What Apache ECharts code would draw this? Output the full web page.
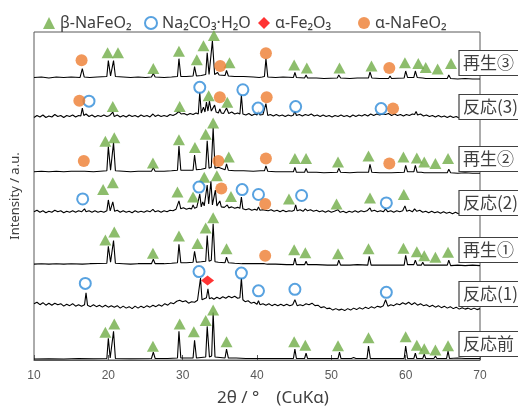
<!DOCTYPE html>
<html>
<head>
<meta charset="utf-8">
<script src="https://cdn.jsdelivr.net/npm/echarts@6/dist/echarts.min.js"></script>
<style>
  body { margin: 0; background: #fff; }
  #xrd-chart { width: 518px; height: 412px; }
</style>
</head>
<body>
<div id="xrd-chart"></div>
<script>
// sample names, top to bottom
const sampleNames = ['再生③', '反応(3)', '再生②', '反応(2)', '再生①', '反応(1)', '反応前']
const labelCenters = [63, 107, 159, 203, 250, 294, 344]

// traces: [2theta, offset intensity]
const regen3 = [[10,286],[11,286.5],[12,285.5],[13,286.5],[14,286],[15,286.5],[16.2,286],[16.5,295],[16.75,286.5],[17.5,286],[18.5,286.5],[19.8,287],[20.0,303],[20.3,287.5],[20.45,287.5],[20.7,303],[20.95,287],[22,286.5],[23,286],[24,286.5],[25,286],[25.8,286.5],[26.05,290],[26.3,286.5],[27.5,286],[28.5,286.5],[29.3,287],[29.5,305],[29.75,287],[30.5,287],[31.4,287.5],[31.6,297],[31.85,287.5],[32.5,288],[33.1,289],[33.3,311],[33.55,289],[33.8,290],[34.0,323],[34.3,289],[34.55,289],[34.7,291],[34.9,288.5],[35.7,288],[35.9,293],[36.15,287.5],[37,287],[37.9,287],[38.05,288.5],[38.2,287],[39.5,286.5],[40.3,286],[40.5,287.5],[40.7,286.5],[41.0,287],[41.2,305],[41.45,286.5],[42.5,286],[43.5,286.5],[44.9,286],[45.1,291],[45.3,286],[46.4,285.5],[46.6,288.5],[46.8,285.5],[48,285.5],[49,285],[50.8,285.5],[51.0,288.5],[51.25,285.5],[52.5,285],[53.5,285.5],[55.0,285.5],[55.2,291.5],[55.45,285.5],[56.5,285],[57.7,285],[57.9,287.5],[58.1,285],[59.8,285.5],[60.0,292.5],[60.25,286],[61.1,286],[61.3,292.5],[61.55,286],[62.3,285.5],[62.5,287.5],[62.7,285],[63.8,285],[64.0,286.5],[64.2,285],[65.6,285],[65.8,288.5],[66.05,285],[67,284.5],[68,285],[69,284.5],[70,284.5]]

const react3 = [[10,245.5],[10.4,247.5],[10.8,246],[11.2,248],[11.6,245.5],[12,247],[12.4,246],[12.8,248.5],[13.2,246.5],[13.6,247.5],[14,245.5],[14.4,247.5],[14.8,246.5],[15.2,248],[15.6,246],[16,247.5],[16.3,247],[16.5,255],[16.7,247.5],[17.0,249],[17.4,246.5],[17.8,248],[18.2,246],[18.6,247.5],[19,246.5],[19.4,248],[19.8,246.5],[20.2,247.5],[20.45,247],[20.6,251],[20.8,246.5],[21.2,248],[21.6,246],[22,247.5],[22.4,246],[22.8,248],[23.2,246.5],[23.6,247.5],[24,246],[24.4,248],[24.8,246.5],[25.2,247.5],[25.6,246],[26,249],[26.3,246.5],[26.7,248],[27.1,246.5],[27.5,247.5],[27.9,246.5],[28.3,248.5],[28.7,247.5],[29.1,249],[29.5,251.5],[29.8,249],[30.2,249.5],[30.6,248],[31,249.5],[31.4,248.5],[31.8,250],[32.1,249],[32.3,271],[32.5,250],[32.8,256],[33.0,251],[33.2,261],[33.4,252],[33.6,262],[33.85,252],[34.1,253],[34.3,258],[34.5,251],[34.8,250],[35.0,254],[35.2,250],[35.5,249.5],[35.9,255],[36.2,249.5],[36.6,251],[37,249],[37.4,250],[37.7,249],[37.9,268],[38.1,249],[38.5,248],[38.9,249.5],[39.3,247.5],[39.7,249],[40.0,248],[40.2,252],[40.4,248],[40.8,248.5],[41.0,248],[41.2,259.5],[41.45,247.5],[41.8,248.5],[42.2,247],[42.6,248.5],[43,247],[43.4,248],[43.8,246.5],[44.2,248],[44.6,247],[44.9,248],[45.1,252],[45.3,247.5],[45.7,248.5],[46.1,247],[46.5,248.5],[46.9,247.5],[47.3,249],[47.7,247],[48.1,248],[48.5,246.5],[48.9,248],[49.3,246.5],[49.7,247.5],[50.1,246],[50.5,247.5],[50.9,246.5],[51.3,248],[51.7,246.5],[52.1,247.5],[52.5,246],[52.9,248],[53.3,246.5],[53.7,248],[54.1,247],[54.5,248.5],[54.9,247],[55.3,249],[55.7,247.5],[56.1,249],[56.5,248],[56.9,249],[57.1,251],[57.3,248.5],[57.7,249.5],[58.1,247.5],[58.5,249],[58.9,247.5],[59.3,248.5],[59.7,247],[60.1,248.5],[60.5,247.5],[60.9,249],[61.2,248.5],[61.4,251.5],[61.6,248],[62,249],[62.4,247],[62.8,248],[63.2,246.5],[63.6,247.5],[64,246],[64.4,247.5],[64.8,246],[65.2,247],[65.6,245.5],[66,247],[66.4,245.5],[66.8,246.5],[67.2,245],[67.6,246.5],[68,245],[68.4,246],[68.8,244.5],[69.2,245.5],[69.6,244.5],[70,245]]

const regen2 = [[10,190.5],[11,191],[12,190.5],[13,191],[14,190.5],[15,191],[16.4,191],[16.6,193],[16.8,191],[18,190.5],[19.8,191.5],[20.0,216],[20.3,192],[20.45,192],[20.7,220],[20.95,191.5],[22,191],[23,190.5],[24,191],[25.8,191],[26.05,194.5],[26.3,191],[27.5,191],[28.5,191.5],[29.3,192],[29.5,216.5],[29.75,192],[30.5,192],[31.4,192],[31.6,207.5],[31.85,192.5],[32.5,193],[33.1,194],[33.3,222],[33.55,194],[33.85,195],[34.1,235],[34.35,194],[34.6,193.5],[34.8,195],[35.0,193],[35.7,192.5],[35.9,198.5],[36.15,192],[37,191.5],[37.9,191.5],[38.05,193],[38.2,191.5],[39.5,191],[40.5,191.5],[41.0,191.5],[41.2,196.5],[41.45,191],[42.5,190.5],[43.5,190.5],[44.9,190.5],[45.1,195],[45.3,190],[46.4,190],[46.6,194],[46.8,190],[48,190],[49,189.5],[50.8,190],[51.0,194],[51.25,190],[52.5,189.5],[53.5,190],[55.0,190],[55.2,198],[55.45,190],[56.5,189.5],[57.7,189.5],[57.9,191.5],[58.1,189.5],[59.8,190],[60.0,197],[60.25,190.5],[61.1,190.5],[61.3,197],[61.55,190],[62.1,190],[62.3,192],[62.5,189.5],[63.8,189.5],[64.0,191.5],[64.2,189.5],[65.6,189.5],[65.8,193],[66.05,189.5],[67,189],[68,189.5],[69,189],[70,189]]

const react2 = [[10,150],[10.4,151.5],[10.8,149.5],[11.2,151],[11.6,149],[12,150.5],[12.4,149.5],[12.8,151.5],[13.2,150],[13.6,151],[14,149],[14.4,150.5],[14.8,149.5],[15.2,151],[15.6,149.5],[16,151],[16.4,150],[16.6,150.5],[16.8,153],[17.0,150],[17.4,151],[17.8,149.5],[18.2,151],[18.6,149.5],[19,150.5],[19.4,149.5],[19.8,151],[20.0,162],[20.25,151],[20.45,151],[20.6,160],[20.85,150.5],[21.2,151.5],[21.6,149.5],[22,151],[22.4,149.5],[22.8,150.5],[23.2,149],[23.6,151],[24,149.5],[24.4,150.5],[24.8,149.5],[25.2,151],[25.6,150],[26,152.5],[26.3,150],[26.7,151],[27.1,149.5],[27.5,151],[27.9,150],[28.3,151.5],[28.7,151],[29.1,152.5],[29.3,152],[29.5,161],[29.75,153],[30.1,154],[30.5,152.5],[30.9,153.5],[31.2,153],[31.4,157],[31.6,153.5],[31.9,154.5],[32.1,154],[32.3,168],[32.5,155],[32.7,160],[32.9,156],[33.1,157],[33.3,177],[33.5,158],[33.6,160],[33.8,181],[34.0,157],[34.2,158],[34.4,172],[34.6,156],[34.8,155.5],[35.0,161],[35.2,155],[35.6,154.5],[35.8,155],[36.0,157],[36.2,154],[36.6,155],[37,153.5],[37.4,154.5],[37.7,153.5],[37.9,165],[38.1,153],[38.5,152],[38.9,153],[39.3,151.5],[39.7,152.5],[40.0,151.5],[40.2,155],[40.4,151.5],[40.8,152],[41.1,151.5],[41.3,153.5],[41.5,151],[41.9,152],[42.3,150.5],[42.7,151.5],[43.1,150],[43.5,151.5],[43.9,150],[44.3,151],[44.7,150.5],[45.0,151.5],[45.2,157],[45.4,151],[45.8,152],[46.2,150.5],[46.5,153],[46.8,151],[47.2,152],[47.6,150.5],[48,151.5],[48.4,150],[48.8,151],[49.2,149.5],[49.6,151],[50,149.5],[50.4,150.5],[50.9,152],[51.2,149.5],[51.6,150.5],[52,149],[52.4,150.5],[52.8,149.5],[53.2,151],[53.6,149.5],[54,151],[54.4,150],[54.8,151],[55.0,150.5],[55.2,154],[55.4,150.5],[55.8,151.5],[56.2,150],[56.6,151],[57,150],[57.3,153],[57.6,150],[58,151],[58.4,149.5],[58.8,151],[59.2,150],[59.6,151],[59.9,156],[60.15,150.5],[60.5,151.5],[60.9,150],[61.2,153],[61.5,150.5],[61.9,151.5],[62.3,149.5],[62.7,150.5],[63.1,149],[63.5,150.5],[63.9,149],[64.3,150],[64.7,148.5],[65.1,150],[65.5,148.5],[65.9,149.5],[66.3,148],[66.7,149.5],[67.1,148],[67.5,149],[67.9,147.5],[68.3,149],[68.7,147.5],[69.1,148.5],[69.5,147.5],[70,148]]

const regen1 = [[10,97],[11,97.5],[12,97],[13,97.5],[14,97],[15,97.5],[16.5,97],[17.5,97.5],[19.8,98],[20.0,115],[20.3,99],[20.45,99],[20.7,121],[20.95,98],[22,97.5],[23,97],[24,97.5],[25.8,97.5],[26.05,102],[26.3,97.5],[27.5,97.5],[28.5,98],[29.3,98.5],[29.5,117],[29.75,98.5],[30.5,98.5],[31.4,99],[31.6,110],[31.85,99],[32.5,99.5],[33.1,100],[33.3,126],[33.55,100],[33.85,101],[34.1,138],[34.35,99.5],[34.8,99],[35.7,98.5],[35.9,104],[36.15,98.5],[37,98],[38,97.5],[39.5,97.5],[41.0,97.5],[41.2,99],[41.4,97],[42.5,97],[44,96.5],[44.9,96.5],[45.1,103],[45.3,96.5],[46.4,96.5],[46.6,100],[46.8,96.5],[48,96.5],[49.5,96],[50.8,96],[51.0,101],[51.25,96],[52.5,96],[53.5,96.5],[54.9,96],[55.1,105],[55.35,96],[56.5,96],[58,96],[59.8,96],[60.0,106],[60.25,96.5],[61.1,96.5],[61.3,101],[61.55,96],[62.1,96],[62.3,99],[62.5,96],[63.7,96],[63.9,98],[64.1,96],[65.6,96],[65.8,101],[66.05,95.5],[67,96],[68,95.5],[69,96],[70,95.5]]

const react1 = [[10,57],[10.4,58.5],[10.8,56],[11.2,58],[11.6,55.5],[12,57.5],[12.4,55.5],[12.8,57.5],[13.2,56],[13.6,57],[14,54.5],[14.4,56.5],[14.8,55],[15.2,57],[15.6,54.5],[16,56],[16.4,54.5],[16.8,56],[17.0,68],[17.2,55.5],[17.6,54],[18,56],[18.4,54],[18.8,55.5],[19.2,53.5],[19.6,55.5],[20,53.5],[20.4,55],[20.6,56.5],[20.8,53.5],[21.2,55],[21.6,52.5],[22,54.5],[22.4,52.5],[22.8,54],[23.2,52],[23.6,54.5],[24,52.5],[24.4,54.5],[24.8,53],[25.2,55],[25.6,53.5],[26,55.5],[26.4,54],[26.8,56],[27.2,54.5],[27.6,57],[28,55.5],[28.4,58],[28.8,57],[29.2,59.5],[29.6,60.5],[30,59],[30.4,60],[30.8,57.5],[31.2,59],[31.6,58.5],[32,60.5],[32.2,60],[32.4,83],[32.6,61],[32.9,62],[33.2,63],[33.4,72],[33.6,62],[33.9,63],[34.2,61.5],[34.6,63.5],[35,62],[35.4,64],[35.8,62.5],[36.2,64.5],[36.6,63],[37,64.5],[37.4,62.5],[37.7,63],[37.9,83],[38.1,61],[38.4,59],[38.8,60],[39.2,57.5],[39.6,58.5],[40,56.5],[40.2,60],[40.4,56],[40.8,57],[41.2,55.5],[41.6,57],[42,55],[42.4,56.5],[42.8,55],[43.2,56.5],[43.6,55],[44,56.5],[44.4,55],[44.8,56],[45.1,61],[45.4,55],[45.8,56],[46.2,55],[46.6,57],[47,56],[47.4,57.5],[47.8,55],[48.2,55.5],[48.6,53],[49,54],[49.4,52],[49.8,52.5],[50.2,50.5],[50.6,52],[51,50.5],[51.4,51.5],[51.8,50],[52.2,52],[52.6,50.5],[53,52.5],[53.4,51],[53.8,53],[54.2,51.5],[54.6,53.5],[55,52],[55.4,54],[55.8,52.5],[56.2,54.5],[56.6,53.5],[57,55],[57.3,61],[57.6,54.5],[58,56],[58.4,55],[58.8,57],[59.2,56],[59.6,58],[60,56.5],[60.4,58.5],[60.8,56],[61.2,58],[61.6,55.5],[62,57],[62.4,55],[62.8,56],[63.2,54],[63.6,55.5],[64,53.5],[64.4,55],[64.8,53],[65.2,54.5],[65.6,52.5],[66,54],[66.4,52],[66.8,53.5],[67.2,51.5],[67.6,53],[68,51.5],[68.4,52.5],[68.8,51],[69.2,52.5],[69.6,51],[70,52]]

const before = [[10,1],[12,1.3],[14,1],[16,1.5],[18,1.2],[19.8,1.5],[20.0,22],[20.25,2],[20.5,2],[20.7,29],[20.95,1.5],[23,1.2],[25.8,1.5],[26.05,8],[26.3,1.5],[28,1.5],[29.3,2],[29.5,29],[29.75,2],[31.4,2],[31.6,20],[31.85,2],[33.1,3],[33.3,34],[33.6,3],[33.9,4],[34.1,48],[34.35,3],[35.7,2],[35.9,11],[36.15,2],[36.9,2],[37.0,3.5],[37.2,2],[38.5,1.5],[40,1.5],[41,1.5],[43,1.5],[44.9,1.5],[45.1,11],[45.3,1.5],[46.4,1.5],[46.6,7],[46.8,1.5],[48,1.5],[50.9,1.5],[51.1,8],[51.3,1.5],[52.3,1.5],[52.5,3],[52.7,1.5],[53,2.5],[53.3,1.5],[54.8,1.5],[55.0,14],[55.25,1.5],[57,1.5],[59.8,1.5],[60.0,14],[60.25,1.5],[61.1,1.5],[61.3,7],[61.5,1.5],[62.3,1.5],[62.5,6],[62.7,1.5],[63.8,1.5],[64.0,4],[64.2,1.5],[65.5,1.5],[65.7,9],[65.9,1.5],[67,2],[68,1.5],[70,1.5]]

// phase marks: [2theta, offset intensity]
const betaMarks = [
  [19.9,311],[21.3,311],[26.05,295],[29.5,312.5],[31.9,304],[32.8,318],[34.2,328.5],[36.3,301],
  [45.0,298.5],[46.7,295.5],[51.1,295.5],[55.4,297.5],[59.9,301],[61.7,300],[62.7,296],[64.3,294.5],[66.1,300],
  [20.6,256.5],[29.6,256.5],[33.5,267.5],[36.0,261],
  [19.6,221.5],[20.8,225],[26.0,199.5],[29.5,223],[31.65,215],[33.1,228.5],[34.1,240],[36.2,205.5],
  [45.1,204],[46.6,204],[50.9,200.5],[55.0,206.5],[59.7,205.5],[61.5,204.5],[62.5,200.5],[64.0,199],[65.7,204],
  [19.3,172.5],[20.6,179.5],[29.3,170],[31.4,165],[32.9,185],[34.6,186.5],[36.5,165.5],[44.3,163],[50.7,158],[55.2,164],[59.75,167.5],
  [19.6,121.5],[20.8,129.5],[26.0,108],[29.5,125.5],[32.0,118],[33.1,133.5],[34.1,144],[35.9,112.5],
  [45.0,111.5],[46.5,108.5],[50.9,107.5],[55.0,112.5],[59.7,113],[61.5,109.5],[62.5,105.5],[64.0,104],[65.7,109],
  [19.6,28],[20.8,36.5],[26.0,14],[29.6,36.5],[31.5,28.5],[33.1,40],[34.1,50.5],[35.9,18.5],
  [45.0,18.5],[46.5,15],[50.9,14.5],[55.0,22.5],[60.0,23.5],[61.5,15],[62.5,11.5],[64.0,10],[65.7,14.5]
]
const carbMarks = [
  [17.4,262],[32.3,276],[38.1,273.5],[40.15,255],[45.2,256.5],[56.7,254.5],
  [16.55,163],[32.2,175],[38.0,172.5],[40.2,167.5],[46.0,166.5],[57.4,159],
  [16.9,77.5],[32.2,89.5],[37.9,88],[40.2,70],[45.1,71.5],[57.4,68.5]
]
const hematiteMarks = [[33.35,80.5]]
const alphaMarks = [
  [16.4,303.5],[35.05,297.5],[41.2,310.5],[57.8,295.5],
  [16.1,262.5],[35.0,266],[41.3,266],[58.3,254.5],
  [16.7,201.5],[34.8,201.5],[41.2,204],[57.8,199],
  [35.2,173.5],[41.1,158],
  [41.1,105.5]
]

const traces = [regen3, react3, regen2, react2, regen1, react1, before]
const phaseNames = ['β-NaFeO₂', 'Na₂CO₃·H₂O', 'α-Fe₂O₃', 'α-NaFeO₂']

let myChart = echarts.init(document.getElementById('xrd-chart'))

let series = traces.map((d, i) => ({
  name: sampleNames[i],
  type: 'line',
  data: d,
  showSymbol: false,
  lineStyle: { color: '#000', width: 1.1 },
  z: 2
}))
series.push(
  { name: phaseNames[0], type: 'scatter', data: betaMarks, symbol: 'triangle', symbolSize: [12, 11], itemStyle: { color: '#70AD47' }, z: 5 },
  { name: phaseNames[1], type: 'scatter', data: carbMarks, symbol: 'emptyCircle', symbolSize: 11, itemStyle: { color: '#2E8BD8', borderWidth: 1.6 }, z: 5 },
  { name: phaseNames[2], type: 'scatter', data: hematiteMarks, symbol: 'diamond', symbolSize: [13, 10], itemStyle: { color: '#FF0000' }, z: 5 },
  { name: phaseNames[3], type: 'scatter', data: alphaMarks, symbol: 'circle', symbolSize: 12, itemStyle: { color: '#ED7D31' }, z: 5 }
)

let legendLefts = [43, 144, 258, 358]
let legendIcons = ['triangle', 'emptyCircle', 'diamond', 'circle']
let legend = phaseNames.map((n, i) => ({
  data: [{ name: n, icon: legendIcons[i] }],
  left: legendLefts[i],
  top: 15,
  padding: 0,
  itemWidth: 12,
  itemHeight: 12,
  textStyle: { fontSize: 16, color: '#404040', fontFamily: 'Noto Sans, DejaVu Sans' }
}))

let graphic = []
sampleNames.forEach((n, i) => {
  graphic.push({
    type: 'rect',
    shape: { x: 459, y: labelCenters[i] - 12.5, width: 70, height: 25 },
    style: { fill: '#fff', stroke: '#404040', lineWidth: 1.2 },
    z: 100
  })
  graphic.push({
    type: 'text',
    x: 463,
    y: labelCenters[i],
    style: { text: n, font: '17px "Noto Sans CJK JP"', fill: '#404040', verticalAlign: 'middle' },
    z: 101
  })
})

let option = {
  animation: false,
  grid: { left: 34, right: 38, top: 32, bottom: 48, show: true, borderColor: '#595959', borderWidth: 1 },
  legend: legend,
  xAxis: {
    type: 'value',
    min: 10,
    max: 70,
    interval: 10,
    name: '2θ / °　(CuKα)',
    nameLocation: 'middle',
    nameGap: 30,
    nameTextStyle: { fontSize: 17, color: '#404040', fontFamily: 'Noto Sans, DejaVu Sans', padding: [0, 0, 0, 32] },
    axisLine: { lineStyle: { color: '#595959' } },
    axisTick: { inside: true, length: 5, lineStyle: { color: '#595959' } },
    axisLabel: { fontSize: 12, color: '#595959', margin: 10 },
    splitLine: { show: false }
  },
  yAxis: {
    type: 'value',
    min: 0,
    max: 332,
    name: 'Intensity / a.u.',
    nameLocation: 'middle',
    nameGap: 12,
    nameTextStyle: { fontSize: 13, color: '#404040', fontFamily: 'Noto Sans, DejaVu Sans' },
    axisLine: { show: false },
    axisTick: { show: false },
    axisLabel: { show: false },
    splitLine: { show: false }
  },
  graphic: graphic,
  series: series
}
myChart.setOption(option)
</script>
</body>
</html>
